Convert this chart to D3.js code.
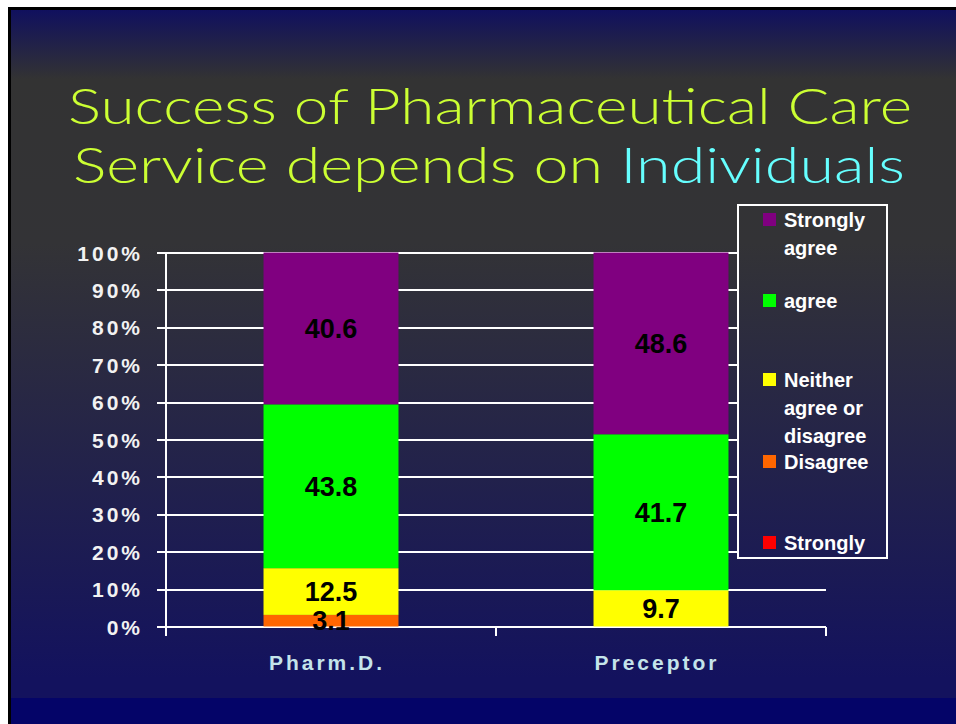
<!DOCTYPE html>
<html>
<head>
<meta charset="utf-8">
<script src="https://cdn.jsdelivr.net/npm/d3@7"></script>
<style>
  html, body { margin: 0; padding: 0; background: #fff; }
  svg { display: block; }
</style>
</head>
<body>
<svg id="chart"></svg>
<script>
// stacked 100% bars, slide style
const categories = ["Pharm.D.", "Preceptor"];
const seriesKeys = ["sd", "d", "n", "a", "sa"];
const stronglyDisagree = [0, 0];
const disagree = [3.1, 0];
const neither = [12.5, 9.7];
const agree = [43.8, 41.7];
const stronglyAgree = [40.6, 48.6];
const seriesColors = ["#ff0000", "#ff6600", "#ffff00", "#00ff00", "#800080"];
const yTicks = [0, 10, 20, 30, 40, 50, 60, 70, 80, 90, 100];
// legend order top->bottom, each entry split on lines
const legendKeys = ["sa", "a", "n", "d", "sd"];
const legendLines = [["Strongly", "agree"], ["agree"], ["Neither", "agree or", "disagree"], ["Disagree"], ["Strongly", "disagree"]];
const legendRowY = [220, 301, 380, 462, 543];

const W = 956, H = 724;
const svg = d3.select("#chart").attr("width", W).attr("height", H);

const defs = svg.append("defs");
const grad = defs.append("linearGradient")
    .attr("id", "bg")
    .attr("gradientUnits", "userSpaceOnUse")
    .attr("x1", 0).attr("y1", 10).attr("x2", 0).attr("y2", 698);
grad.append("stop").attr("offset", 0).attr("stop-color", "#10105e");
grad.append("stop").attr("offset", 0.1).attr("stop-color", "#333333");
grad.append("stop").attr("offset", 0.34).attr("stop-color", "#333336");
grad.append("stop").attr("offset", 0.97).attr("stop-color", "#13125e");
grad.append("stop").attr("offset", 1).attr("stop-color", "#13125e");

// frame + slide
svg.append("rect").attr("x", 8).attr("y", 7).attr("width", W - 8).attr("height", H - 7).attr("fill", "#000");
svg.append("rect").attr("x", 11).attr("y", 10).attr("width", W - 11).attr("height", H - 10).attr("fill", "url(#bg)");
svg.append("rect").attr("x", 11).attr("y", 698).attr("width", W - 11).attr("height", H - 698).attr("fill", "#040468");

// title
const title = svg.append("g")
    .attr("font-family", "Lato, 'Liberation Sans', Arial, sans-serif")
    .attr("font-weight", 300)
    .attr("font-size", 49)
    .attr("text-anchor", "start");
title.append("text")
    .attr("x", 68).attr("y", 124)
    .attr("textLength", 844).attr("lengthAdjust", "spacingAndGlyphs")
    .attr("fill", "#ccff33")
    .text("Success of Pharmaceutical Care");
const t2 = title.append("text")
    .attr("x", 73).attr("y", 183)
    .attr("textLength", 832).attr("lengthAdjust", "spacingAndGlyphs");
t2.append("tspan").attr("fill", "#ccff33").text("Service depends on ");
t2.append("tspan").attr("fill", "#66ffff").text("Individuals");

// scales
const x0 = 166, x1 = 826, yTop = 252.5, yBot = 626.5;
const x = d3.scaleBand().domain(categories).range([x0, x1]).paddingInner(0.591).paddingOuter(0.2955);
const y = d3.scaleLinear().domain([0, 100]).range([yBot, yTop]);

const rows = categories.map((c, i) => ({
  cat: c, sd: stronglyDisagree[i], d: disagree[i], n: neither[i], a: agree[i], sa: stronglyAgree[i]
}));
const stacked = d3.stack().keys(seriesKeys)(rows);
const color = d3.scaleOrdinal().domain(seriesKeys).range(seriesColors);

// gridlines + y axis
const yAxis = d3.axisLeft(y).tickValues(yTicks).tickSize(-(x1 - x0)).tickFormat(d => d + "%").tickPadding(23);
const yG = svg.append("g").attr("transform", "translate(" + x0 + ",0)").call(yAxis);
yG.select(".domain").remove();
yG.selectAll(".tick line").attr("stroke", "#fff").attr("stroke-width", 2).attr("x1", -9)
    .attr("shape-rendering", "crispEdges");
yG.selectAll(".tick text")
    .attr("fill", "#f2f2f2")
    .attr("font-family", "'Liberation Sans', Arial, sans-serif")
    .attr("font-weight", "bold")
    .attr("font-size", 21)
    .attr("letter-spacing", 3)
    .attr("dy", "0.36em");
svg.append("line").attr("x1", x0).attr("x2", x0).attr("y1", yTop).attr("y2", yBot + 9)
    .attr("stroke", "#fff").attr("stroke-width", 2).attr("shape-rendering", "crispEdges");

// category boundary ticks below axis
const boundaries = [x0 + x.step(), x1];
svg.selectAll("line.xtick").data(boundaries).enter().append("line")
    .attr("class", "xtick")
    .attr("x1", d => d).attr("x2", d => d).attr("y1", yBot).attr("y2", yBot + 9)
    .attr("stroke", "#fff").attr("stroke-width", 2).attr("shape-rendering", "crispEdges");

// bars
const layers = svg.append("g").selectAll("g").data(stacked).enter().append("g")
    .attr("fill", d => color(d.key));
layers.selectAll("rect").data(d => d.filter(s => s[1] - s[0] > 0)).enter().append("rect")
    .attr("x", d => x(d.data.cat))
    .attr("width", x.bandwidth())
    .attr("y", d => y(d[1]))
    .attr("height", d => y(d[0]) - y(d[1]));

// value labels
const labels = [];
stacked.forEach(layer => layer.forEach(s => {
  if (s[1] - s[0] > 0) labels.push({ cat: s.data.cat, v: s[1] - s[0], mid: (s[0] + s[1]) / 2 });
}));
svg.append("g").selectAll("text").data(labels).enter().append("text")
    .attr("x", d => x(d.cat) + x.bandwidth() / 2)
    .attr("y", d => y(d.mid))
    .attr("dy", "0.36em")
    .attr("text-anchor", "middle")
    .attr("font-family", "'Liberation Sans', Arial, sans-serif")
    .attr("font-weight", "bold")
    .attr("font-size", 27)
    .attr("fill", "#000")
    .text(d => d3.format(".1f")(d.v));

// category labels
svg.append("g").selectAll("text").data(categories).enter().append("text")
    .attr("x", d => x(d) + x.bandwidth() / 2 - 4)
    .attr("y", 670)
    .attr("text-anchor", "middle")
    .attr("font-family", "'Liberation Sans', Arial, sans-serif")
    .attr("font-weight", "bold")
    .attr("font-size", 21)
    .attr("letter-spacing", 3)
    .attr("fill", "#c4e4ea")
    .text(d => d);

// legend
const lg = svg.append("g");
lg.append("clipPath").attr("id", "lgclip").append("rect")
    .attr("x", 738).attr("y", 205).attr("width", 149).attr("height", 353);
lg.append("rect").attr("x", 738).attr("y", 205).attr("width", 149).attr("height", 353)
    .attr("fill", "url(#bg)").attr("stroke", "#fff").attr("stroke-width", 2);
const items = lg.append("g").attr("clip-path", "url(#lgclip)")
    .selectAll("g").data(legendKeys).enter().append("g");
items.append("rect")
    .attr("x", 763).attr("y", (d, i) => legendRowY[i] - 7)
    .attr("width", 13).attr("height", 13)
    .attr("fill", d => color(d));
items.each(function (d, i) {
  const t = d3.select(this).append("text")
      .attr("x", 784)
      .attr("font-family", "'Liberation Sans', Arial, sans-serif")
      .attr("font-weight", "bold")
      .attr("font-size", 20)
      .attr("fill", "#fff");
  legendLines[i].forEach((ln, j) => {
    t.append("tspan").attr("x", 784).attr("y", legendRowY[i] + j * 27.7).attr("dy", "0.36em").text(ln);
  });
});
</script>
</body>
</html>
